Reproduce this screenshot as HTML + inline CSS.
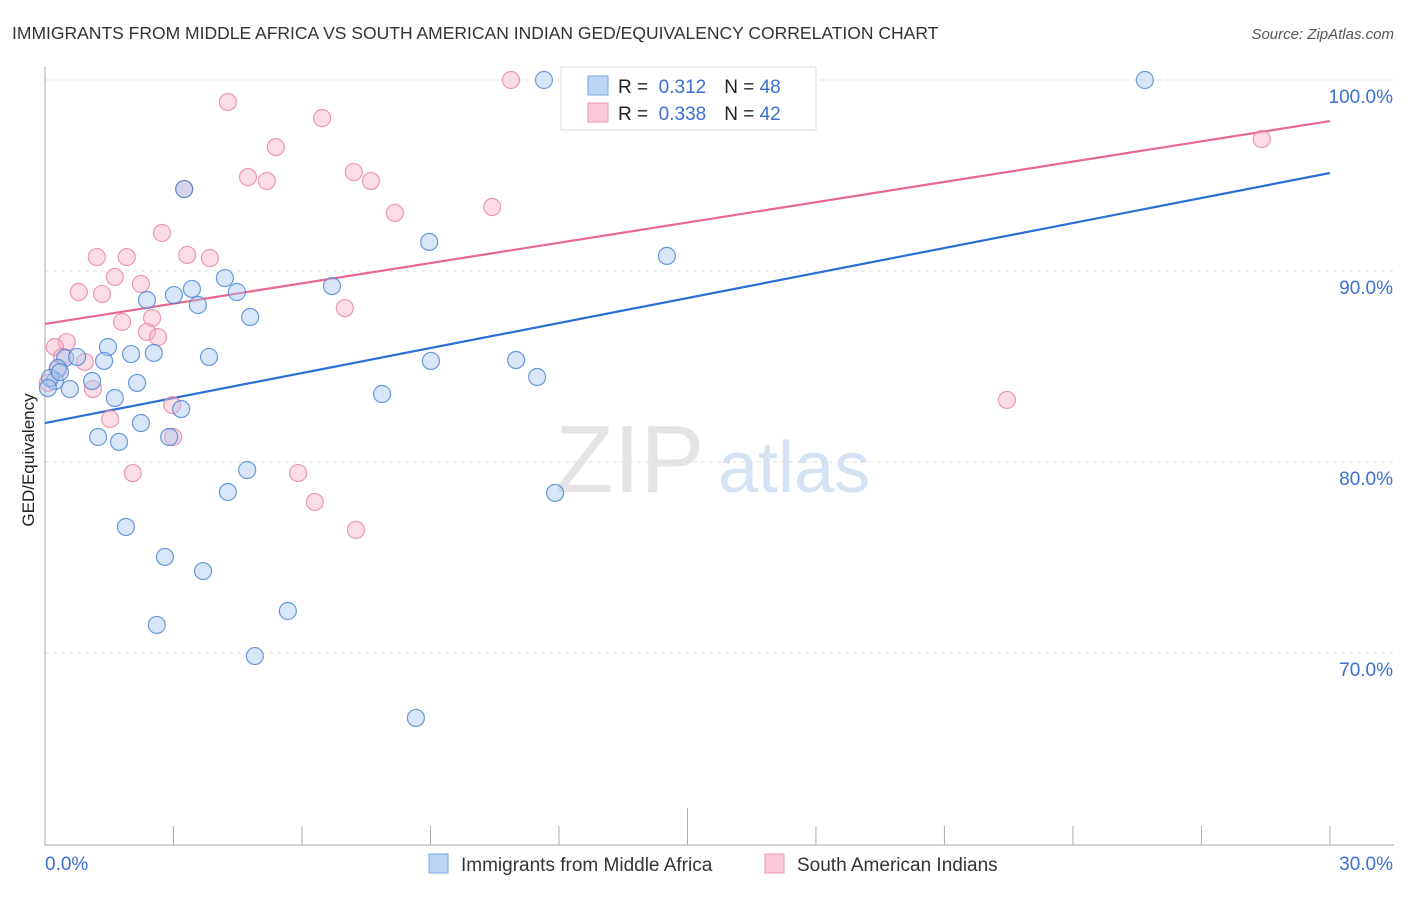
<!DOCTYPE html>
<html><head><meta charset="utf-8"><style>
body{margin:0;background:#fff;font-family:"Liberation Sans",sans-serif;}
svg text{font-family:"Liberation Sans",sans-serif;}
</style></head><body>
<svg width="1406" height="892" viewBox="0 0 1406 892">
<text x="12" y="39" font-size="17.5" fill="#333">IMMIGRANTS FROM MIDDLE AFRICA VS SOUTH AMERICAN INDIAN GED/EQUIVALENCY CORRELATION CHART</text>
<text x="1394" y="39" font-size="15" font-style="italic" fill="#555" text-anchor="end">Source: ZipAtlas.com</text>
<text transform="translate(34,460) rotate(-90)" font-size="17" fill="#222" text-anchor="middle">GED/Equivalency</text>
<g><text x="555" y="492" font-size="96" font-family="Liberation Serif,serif" fill="#e4e4e4">ZIP</text><text x="718" y="492" font-size="72" fill="#d5e2f3">atlas</text></g>
<g id="grid"></g><g id="axes"></g><g id="lines"></g><g id="pts"></g>
<g>
<rect x="561" y="67" width="255" height="63" fill="#fff" stroke="#ddd"/>
<rect x="588" y="76" width="20" height="19" fill="#bcd5f6" stroke="#7aa6e0"/>
<text x="618" y="93" font-size="19" fill="#222">R = <tspan fill="#3a70d0">&#160;0.312</tspan><tspan dx="18" fill="#222">N = </tspan><tspan fill="#3a70d0">48</tspan></text>
<rect x="588" y="103" width="20" height="19" fill="#fbc8d8" stroke="#e898b0"/>
<text x="618" y="120" font-size="19" fill="#222">R = <tspan fill="#3a70d0">&#160;0.338</tspan><tspan dx="18" fill="#222">N = </tspan><tspan fill="#3a70d0">42</tspan></text>
</g>
<g>
<rect x="429" y="854" width="19" height="19" fill="#bcd5f6" stroke="#7aa6e0"/>
<text x="461" y="871" font-size="19" fill="#333">Immigrants from Middle Africa</text>
<rect x="765" y="854" width="19" height="19" fill="#fbc8d8" stroke="#e898b0"/>
<text x="797" y="871" font-size="19" fill="#333">South American Indians</text>
</g>
</svg>
<script>
const blueX=[11.65,25.68,3.25,8.97,14.52,4.20,6.70,3.43,4.48,3.01,2.38,3.57,4.79,1.47,2.01,2.54,3.83,1.38,9.01,11.00,0.47,0.75,0.30,1.10,2.15,11.49,0.58,0.23,7.87,1.63,3.18,2.24,2.90,1.24,1.73,4.72,4.27,11.91,1.89,2.80,3.69,2.61,5.67,4.90,8.66,0.12,0.35,0.07];
const blueY=[100,100,94.29,91.52,90.79,89.63,89.21,89.06,88.90,88.74,88.48,88.22,87.59,86.02,85.65,85.71,85.50,85.29,85.29,85.34,85.45,85.50,84.92,84.24,84.14,84.45,83.82,84.24,83.56,83.35,82.77,82.04,81.31,81.31,81.05,79.58,78.43,78.38,76.60,75.03,74.29,71.47,72.20,69.84,66.60,84.40,84.71,83.87];
const pinkX=[10.88,17.11,4.27,6.47,5.39,3.25,7.21,4.74,5.18,7.61,8.17,10.44,28.41,2.73,3.32,1.21,1.91,3.85,1.63,2.24,0.79,1.33,2.50,1.80,7.00,2.38,2.64,0.51,0.23,0.40,0.93,1.12,1.52,2.97,2.99,2.05,5.91,6.30,7.26,22.46,0.07,0.30];
const pinkY=[100,100,98.85,98.01,96.49,94.29,95.18,94.92,94.71,94.71,93.04,93.35,96.91,91.99,90.84,90.73,90.73,90.68,89.69,89.32,88.90,88.80,87.54,87.33,88.06,86.81,86.54,86.28,86.02,85.50,85.24,83.82,82.25,82.98,81.31,79.42,79.42,77.91,76.44,83.25,84.14,84.82];
const blueTrend=[82.04,95.13];
const pinkTrend=[87.23,97.85];
const yTicks=[100,90,80,70];
const xTickLabels=["0.0%","30.0%"];
const NS="http://www.w3.org/2000/svg";
const sx=v=>45+v*42.83, sy=v=>80+(100-v)*19.1;
function mk(p,t,a){const e=document.createElementNS(NS,t);for(const k in a)e.setAttribute(k,a[k]);p.appendChild(e);return e;}
const grid=document.getElementById('grid'),axes=document.getElementById('axes'),lines=document.getElementById('lines'),pts=document.getElementById('pts');
yTicks.forEach(v=>{
 const l=mk(grid,'line',{x1:45,x2:1394,y1:sy(v),y2:sy(v),stroke:'#ddd','stroke-dasharray':'4,4'});
 
 
 const t=mk(grid,'text',{x:1393,y:sy(v)+23,'font-size':19,fill:'#3a70d0','text-anchor':'end'});t.textContent=v.toFixed(1)+'%';
 
 
});
const ya=mk(axes,'line',{x1:45,x2:45,y1:67,y2:845,stroke:'#aaa'});


const xa=mk(axes,'line',{x1:45,x2:1394,y1:845,y2:845,stroke:'#aaa'});


for(let i=1;i<=10;i++){const x=sx(i*3);const tk=mk(axes,'line',{x1:x,x2:x,y1:i==5?808:826,y2:845,stroke:'#aaa'});
 
 }
const t0=mk(axes,'text',{x:45,y:870,'font-size':19,fill:'#3a70d0'});t0.textContent=xTickLabels[0];


const t1=mk(axes,'text',{x:1393,y:870,'font-size':19,fill:'#3a70d0','text-anchor':'end'});t1.textContent=xTickLabels[1];


function dots(X,Y,fill,stroke,name){X.forEach((x,i)=>{const c=mk(pts,'circle',{cx:sx(x),cy:sy(Y[i]),r:8.5,fill:fill,stroke:stroke,'stroke-width':1.2});
 
 });}
dots(pinkX,pinkY,'rgba(248,180,200,0.45)','rgba(230,130,160,0.8)','point-south-american-indians');
dots(blueX,blueY,'rgba(170,200,240,0.45)','rgba(70,130,210,0.8)','point-middle-africa');
const bl=mk(lines,'line',{x1:sx(0),x2:sx(30),y1:sy(blueTrend[0]),y2:sy(blueTrend[1]),stroke:'#2a6fd6','stroke-width':2.2});


const pl=mk(lines,'line',{x1:sx(0),x2:sx(30),y1:sy(pinkTrend[0]),y2:sy(pinkTrend[1]),stroke:'#e8688f','stroke-width':2.2});


</script>
</body></html>
